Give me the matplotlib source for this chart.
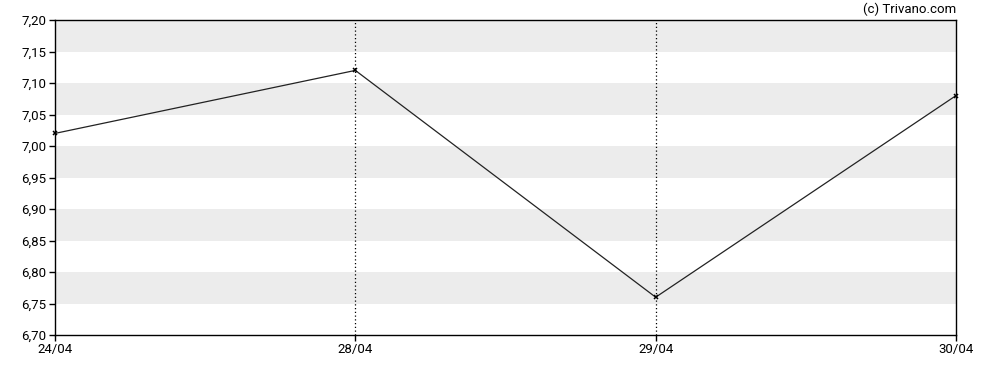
import matplotlib
matplotlib.use("Agg")
import matplotlib.pyplot as plt
import numpy as np

# Data
dates = ["24/04", "28/04", "29/04", "30/04"]
prices = [7.02, 7.12, 6.76, 7.08]
y_min, y_max, y_step = 6.70, 7.20, 0.05

plt.rcParams['font.family'] = ['Roboto', 'DejaVu Sans']

fig = plt.figure(figsize=(9.88, 3.7), dpi=100)
ax = fig.add_axes([55 / 988, 1 - 335 / 370, (956 - 55) / 988, (335 - 20) / 370])

x = np.arange(len(dates))

# Alternating grey bands
yticks = np.round(np.arange(y_min, y_max + y_step / 2, y_step), 2)
for i in range(len(yticks) - 1):
    if i % 2 == 1:
        ax.axhspan(yticks[i], yticks[i + 1], color='#ececec', lw=0, zorder=0)

# Dotted vertical lines at inner dates
for xi in x[1:-1]:
    ax.axvline(xi, color='black', lw=0.9, linestyle=(0, (1, 2)), zorder=1)

ax.plot(x, prices, color='#222222', lw=0.9, marker='x', markersize=3,
        markeredgewidth=1.1, markeredgecolor='black', zorder=3, clip_on=False)

ax.set_xlim(x[0], x[-1])
ax.set_ylim(y_min, y_max)
ax.set_xticks(x)
ax.set_xticklabels(dates)
ax.set_yticks(yticks)
ax.set_yticklabels([f"{v:.2f}".replace('.', ',') for v in yticks])

for spine in ax.spines.values():
    spine.set_color('black')
    spine.set_linewidth(1)

ax.tick_params(axis='both', direction='out', length=4, width=1, labelsize=9.5,
               colors='black', pad=2)

fig.text(956 / 988, 1 - 9 / 370, "(c) Trivano.com", ha='right', va='center', fontsize=9.5)

fig.savefig("out.png", dpi=100)
